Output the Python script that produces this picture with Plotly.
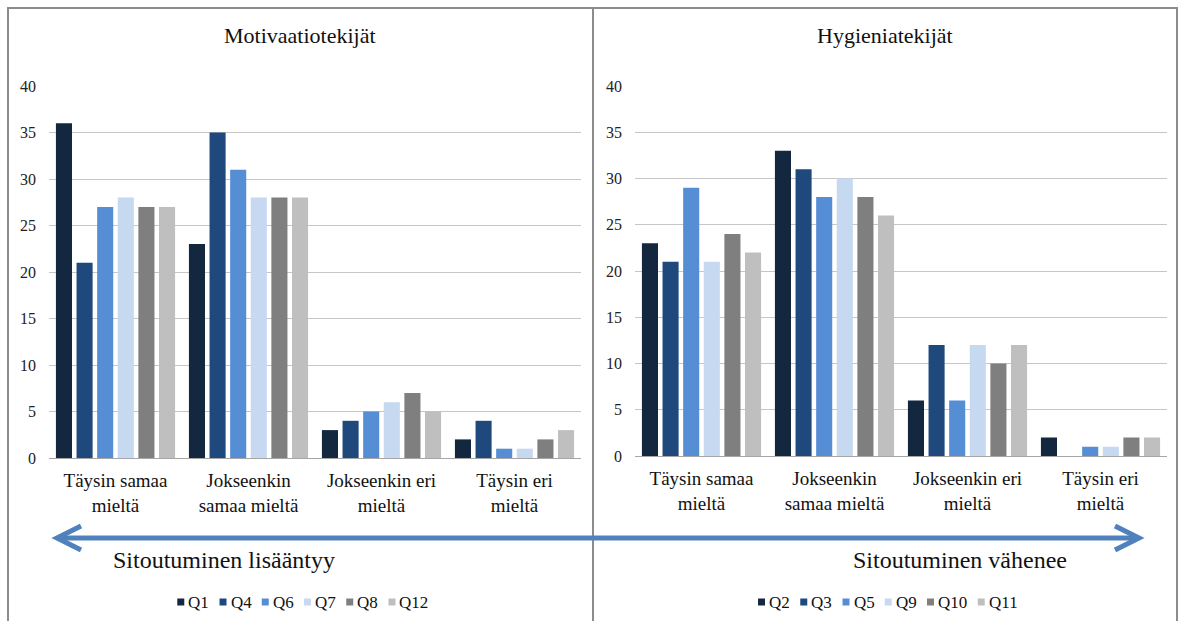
import plotly.graph_objects as go

W, H = 1181, 621

# Response categories (x axis, two-line labels)
categories = ["Täysin samaa<br>mieltä", "Jokseenkin<br>samaa mieltä",
              "Jokseenkin eri<br>mieltä", "Täysin eri<br>mieltä"]

# Motivation factors
motivation_names = ["Q1", "Q4", "Q6", "Q7", "Q8", "Q12"]
motivation_values = [
    [36, 23, 3, 2],   # Q1
    [21, 35, 4, 4],   # Q4
    [27, 31, 5, 1],   # Q6
    [28, 28, 6, 1],   # Q7
    [27, 28, 7, 2],   # Q8
    [27, 28, 5, 3],   # Q12
]

# Hygiene factors
hygiene_names = ["Q2", "Q3", "Q5", "Q9", "Q10", "Q11"]
hygiene_values = [
    [23, 33, 6, 2],   # Q2
    [21, 31, 12, 0],  # Q3
    [29, 28, 6, 1],   # Q5
    [21, 30, 12, 1],  # Q9
    [24, 28, 10, 2],  # Q10
    [22, 26, 12, 2],  # Q11
]

panel_titles = ["Motivaatiotekijät", "Hygieniatekijät"]
arrow_labels = ["Sitoutuminen lisääntyy", "Sitoutuminen vähenee"]
y_ticks = [0, 5, 10, 15, 20, 25, 30, 35, 40]

colors = ["#13273f", "#1f497d", "#558ed5", "#c6d9f1", "#7f7f7f", "#bfbfbf"]
FONT = "Liberation Serif"


def px(x):
    return x / W


def py(y):
    return 1 - y / H


fig = go.Figure()

for name, vals, col in zip(motivation_names, motivation_values, colors):
    fig.add_trace(go.Bar(x=categories, y=vals, name=name, marker_color=col,
                         marker_line_width=0, xaxis="x", yaxis="y",
                         showlegend=False))

for name, vals, col in zip(hygiene_names, hygiene_values, colors):
    fig.add_trace(go.Bar(x=categories, y=vals, name=name, marker_color=col,
                         marker_line_width=0, xaxis="x2", yaxis="y2",
                         showlegend=False))

yaxis_common = dict(range=[0, 40], tickvals=y_ticks, showgrid=True,
                    gridcolor="#c6c6c6", gridwidth=1, zeroline=False,
                    showline=False, ticks="", ticklabelstandoff=12,
                    tickfont=dict(family=FONT, size=16, color="#222"),
                    fixedrange=True)
xaxis_common = dict(showline=True, linecolor="#a6a6a6", linewidth=1,
                    ticks="", ticklabelstandoff=5,
                    tickfont=dict(family=FONT, size=19, color="#111"),
                    fixedrange=True)

fig.update_layout(
    width=W, height=H,
    margin=dict(l=0, r=0, t=0, b=0, autoexpand=False),
    paper_bgcolor="white", plot_bgcolor="white",
    barmode="group", bargap=0.07, bargroupgap=0.22,
    font=dict(family=FONT, color="#111"),
    xaxis=dict(domain=[px(49), px(581)], anchor="y", **xaxis_common),
    yaxis=dict(domain=[py(458), py(86)], anchor="x", **yaxis_common),
    xaxis2=dict(domain=[px(635), px(1167)], anchor="y2", **xaxis_common),
    yaxis2=dict(domain=[py(456), py(86)], anchor="x2", **yaxis_common),
    showlegend=False,
)

# Panel borders
fig.add_shape(type="rect", xref="paper", yref="paper",
              x0=px(8), x1=px(1177), y0=py(622), y1=py(8),
              line=dict(color="#8c8c8c", width=2), layer="below")
fig.add_shape(type="line", xref="paper", yref="paper",
              x0=px(593), x1=px(593), y0=py(622), y1=py(8),
              line=dict(color="#8c8c8c", width=2), layer="below")

# Panel titles
for title, cx in zip(panel_titles, [px(300), px(885)]):
    fig.add_annotation(text=title, xref="paper", yref="paper", x=cx, y=py(35),
                       showarrow=False, xanchor="center", yanchor="middle",
                       font=dict(family=FONT, size=22, color="#111"))


# Compact legends: small square key followed by the series name
def draw_legend(names, cols, center_x, center_y, size=17):
    key, gap_after_key, gap_after_text = 7, 4, 10.5
    widths = [0.72 * size + 0.5 * size * (len(n) - 1) for n in names]
    steps = [key + gap_after_key + w + gap_after_text for w in widths]
    total = sum(steps) - gap_after_text
    x = center_x - total / 2
    for n, c, w, s in zip(names, cols, widths, steps):
        fig.add_shape(type="rect", xref="paper", yref="paper",
                      x0=px(x), x1=px(x + key),
                      y0=py(center_y + key / 2), y1=py(center_y - key / 2),
                      fillcolor=c, line=dict(width=0))
        fig.add_annotation(text=n, xref="paper", yref="paper",
                           x=px(x + key + gap_after_key - 2), y=py(center_y),
                           showarrow=False, xanchor="left", yanchor="middle",
                           font=dict(family=FONT, size=size, color="#111"))
        x += s


draw_legend(motivation_names, colors, 303, 602)
draw_legend(hygiene_names, colors, 888, 602)

# Double-headed arrow across both panels: shaft plus open chevron heads
x_left, x_right, y_arrow = 57, 1139, 538
head_len, head_half = 24, 12
arrow_col = "#4f81bd"
fig.add_shape(type="line", xref="paper", yref="paper",
              x0=px(x_left + 2), x1=px(x_right - 2),
              y0=py(y_arrow), y1=py(y_arrow),
              line=dict(color=arrow_col, width=5))
for tip, back in [(x_left, x_left + head_len), (x_right, x_right - head_len)]:
    path = (f"M {px(back)},{py(y_arrow - head_half)} "
            f"L {px(tip)},{py(y_arrow)} "
            f"L {px(back)},{py(y_arrow + head_half)}")
    fig.add_shape(type="path", xref="paper", yref="paper", path=path,
                  line=dict(color=arrow_col, width=5))

# Arrow captions
fig.add_annotation(text=arrow_labels[0], xref="paper", yref="paper",
                   x=px(111), y=py(560), showarrow=False, xanchor="left",
                   yanchor="middle", font=dict(family=FONT, size=24, color="#111"))
fig.add_annotation(text=arrow_labels[1], xref="paper", yref="paper",
                   x=px(1069), y=py(560), showarrow=False, xanchor="right",
                   yanchor="middle", font=dict(family=FONT, size=24, color="#111"))

fig.write_html("out.html")
